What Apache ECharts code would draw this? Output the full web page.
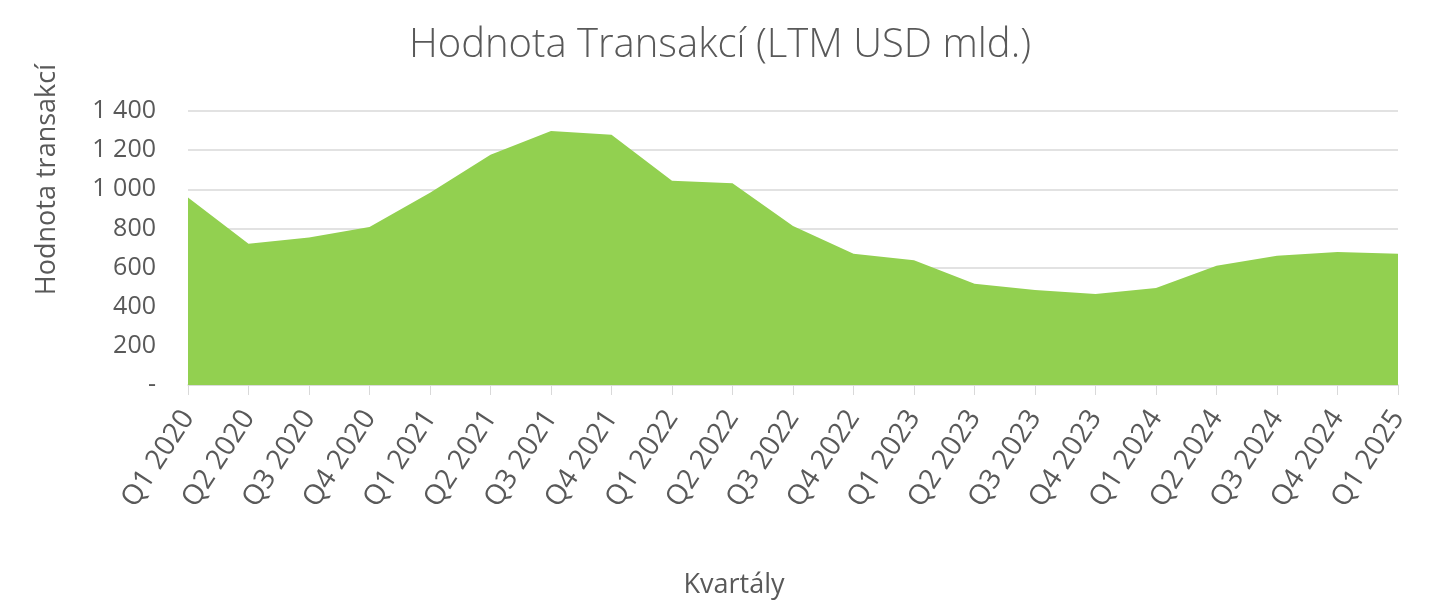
<!DOCTYPE html>
<html><head><meta charset="utf-8">
<script src="https://cdn.jsdelivr.net/npm/echarts@6/dist/echarts.min.js"></script>
<style>html,body{margin:0;padding:0;background:#fff}#c{width:1440px;height:601px}</style>
</head><body><div id="c"></div>
<script>
const categories = ['Q1 2020','Q2 2020','Q3 2020','Q4 2020','Q1 2021','Q2 2021','Q3 2021','Q4 2021','Q1 2022','Q2 2022','Q3 2022','Q4 2022','Q1 2023','Q2 2023','Q3 2023','Q4 2023','Q1 2024','Q2 2024','Q3 2024','Q4 2024','Q1 2025'];
const values = [958, 722, 754, 807, 982, 1177, 1298, 1279, 1044, 1031, 812, 671, 638, 517, 485, 465, 496, 609, 661, 680, 671];
const titleText = 'Hodnota Transakcí (LTM USD mld.)';
const yAxisTitle = 'Hodnota transakcí';
const xAxisTitle = 'Kvartály';

const chart = echarts.init(document.getElementById('c'));
const font = '"Open Sans", Lato, sans-serif';
chart.setOption({
  animation: false,
  title: {text: titleText, left: 'center', top: 21,
    textStyle: {fontFamily: font, fontWeight: 300, fontSize: 40, color: '#595959'}},
  grid: {left: 188, right: 42, top: 111, bottom: 216},
  xAxis: {type: 'category', data: categories, boundaryGap: false,
    axisLine: {lineStyle: {color: '#d9d9d9', width: 1.5}},
    axisTick: {show: true, length: 10, lineStyle: {color: '#d9d9d9'}},
    axisLabel: {rotate: 57, fontFamily: font, fontSize: 28, color: '#595959', margin: 28, interval: 0}},
  yAxis: {type: 'value', min: 0, max: 1400, interval: 200,
    axisLine: {show: false}, axisTick: {show: false},
    splitLine: {lineStyle: {color: '#d9d9d9', width: 1.5}},
    axisLabel: {fontFamily: font, fontSize: 25, color: '#595959', margin: 32,
      formatter: v => v === 0 ? '-' : (v >= 1000 ? Math.floor(v/1000) + ' ' + String(v % 1000).padStart(3,'0') : String(v))}},
  graphic: [
    {type: 'text', left: 34, top: 64, rotation: Math.PI/2,
      style: {text: yAxisTitle, fontFamily: font, fontSize: 27, fill: '#595959'}},
    {type: 'text', x: 734, y: 585,
      style: {text: xAxisTitle, fontFamily: font, fontSize: 27, fill: '#595959', textAlign: 'center', textVerticalAlign: 'middle'}}
  ],
  series: [{type: 'line', data: values, symbol: 'none',
    lineStyle: {width: 0}, areaStyle: {color: '#92D050', opacity: 1}}]
});
</script></body></html>
